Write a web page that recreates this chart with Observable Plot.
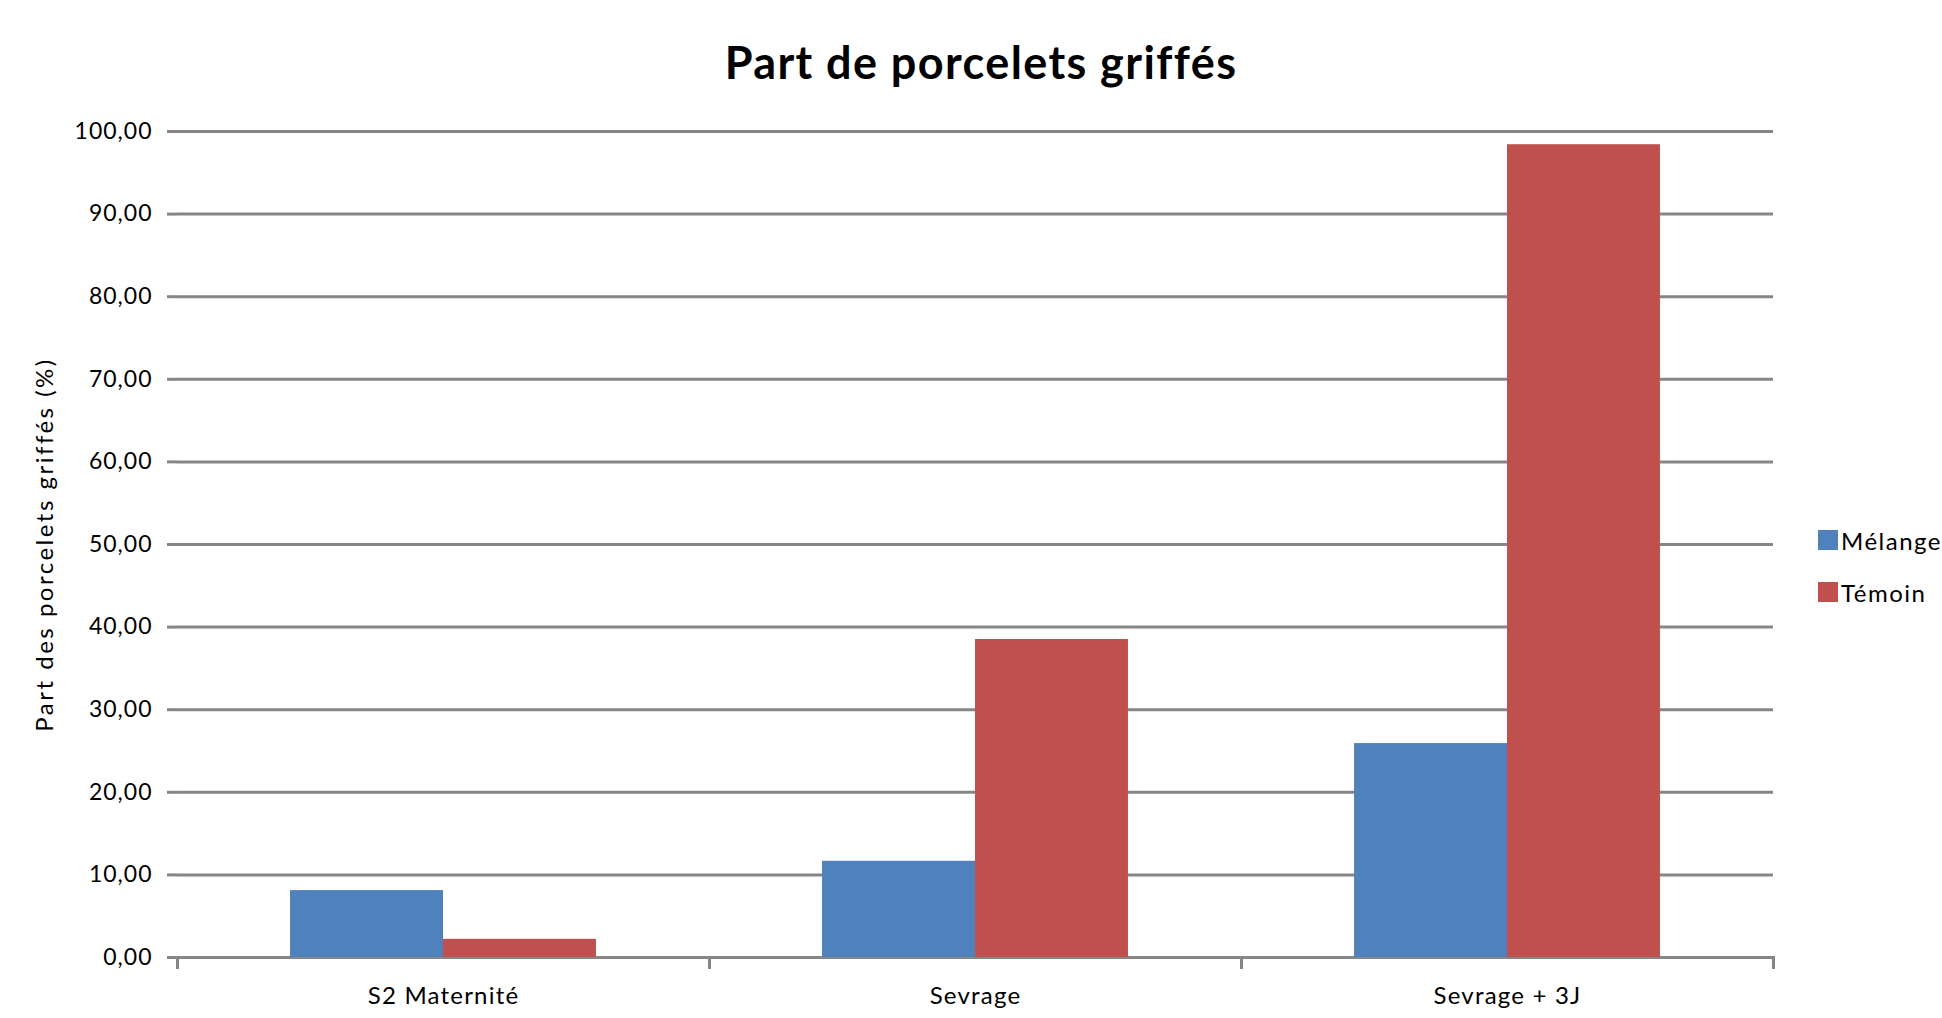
<!DOCTYPE html>
<html>
<head>
<meta charset="utf-8">
<script src="https://cdn.jsdelivr.net/npm/d3@7"></script>
<script src="https://cdn.jsdelivr.net/npm/@observablehq/plot@0.6"></script>
<style>
  html, body { margin: 0; padding: 0; background: #fff; overflow: hidden; }
  #wrap { position: relative; width: 1942px; height: 1018px; font-family: Lato, "Noto Sans", sans-serif; }
  #title { position: absolute; left: 20px; top: 40px; width: 1922px; text-align: center; font-size: 45px; font-weight: bold; line-height: 45px; letter-spacing: 1.4px; color: #000; }
  #chart { position: absolute; left: 0; top: 100px; }
  #chart svg text { letter-spacing: 1px; }
  #chart g[aria-label="y-axis label"] text { font-size: 24px; letter-spacing: 2.5px; }
  #chart g[aria-label="fx-axis tick label"] text { letter-spacing: 1.2px; }
  #legend { position: absolute; left: 1818px; top: 530px; font-size: 24px; letter-spacing: 1.5px; color: #000; }
  .row { display: flex; align-items: center; height: 20px; margin-bottom: 32px; white-space: nowrap; }
  .sw { width: 20px; height: 20px; margin-right: 3px; flex: none; }
</style>
</head>
<body>
<div id="wrap">
  <div id="title">Part de porcelets griffés</div>
  <div id="chart"></div>
  <div id="legend"></div>
</div>
<script>
const categories = ["S2 Maternité", "Sevrage", "Sevrage + 3J"];
const series = ["Mélange", "Témoin"];
const melange = [8.1, 11.65, 25.9];
const temoin = [2.2, 38.5, 98.4];
const yTicks = [0, 10, 20, 30, 40, 50, 60, 70, 80, 90, 100];
const colors = ["#4F81BD", "#C0504D"];
const yLabel = "Part des porcelets griffés (%)";

const gridColor = "#868686";
const table = categories.flatMap((c, i) => [
  {cat: c, serie: series[0], value: melange[i]},
  {cat: c, serie: series[1], value: temoin[i]}
]);

const W = 1942, H = 918, mTop = 31, mBottom = 61;
const plotH = H - mTop - mBottom;

const chart = Plot.plot({
  width: W,
  height: H,
  marginLeft: 177,
  marginRight: 169,
  marginTop: mTop,
  marginBottom: mBottom,
  style: {fontFamily: "Lato, 'Noto Sans', sans-serif", background: "#fff", color: "#000"},
  fx: {domain: categories, padding: 0, round: false},
  x: {domain: series, paddingInner: 0, paddingOuter: 0.739, round: false, axis: null},
  y: {domain: [0, 100]},
  color: {domain: series, range: colors},
  marks: [
    Plot.ruleY(yTicks, {stroke: gridColor, strokeWidth: 3}),
    Plot.barY(table, {fx: "cat", x: "serie", y: "value", fill: "serie"}),
    Plot.frame({anchor: "left", stroke: gridColor, strokeWidth: 3, insetTop: plotH, insetBottom: -10}),
    Plot.frame({anchor: "right", stroke: gridColor, strokeWidth: 3, insetTop: plotH, insetBottom: -10}),
    Plot.axisY({
      ticks: yTicks,
      tickFormat: d => d.toFixed(2).replace(".", ","),
      tickSize: 10,
      tickPadding: 15,
      fontSize: 23,
      stroke: gridColor,
      strokeWidth: 3,
      fill: "#000",
      line: true,
      label: yLabel,
      labelAnchor: "center",
      labelOffset: 142,
      labelArrow: "none"
    }),
    Plot.axisFx({anchor: "bottom", tickSize: 0, tickPadding: 29, fontSize: 24, fill: "#000", label: null})
  ]
});
document.getElementById("chart").appendChild(chart);

const legend = document.getElementById("legend");
series.forEach((s, i) => {
  const row = document.createElement("div");
  row.className = "row";
  const sw = document.createElement("span");
  sw.className = "sw";
  sw.style.background = colors[i];
  const t = document.createElement("span");
  t.textContent = s;
  row.appendChild(sw);
  row.appendChild(t);
  legend.appendChild(row);
});
</script>
</body>
</html>
